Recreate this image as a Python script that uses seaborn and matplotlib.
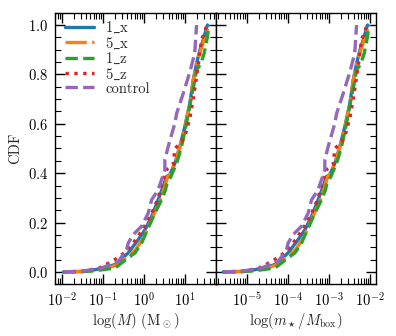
import numpy as np
import pandas as pd
import matplotlib
matplotlib.use("Agg")
import matplotlib.pyplot as plt
import seaborn as sns

# log10(M / Msun) and CDF
runs = [r"1$\_$x", r"5$\_$x", r"1$\_$z", r"5$\_$z", "control"]

logm_1x = [-1.96, -1.5, -1.19, -0.9, -0.7, -0.38, -0.14, 0.03, 0.19, 0.35, 0.47, 0.555,
           0.635, 0.757, 0.878, 1.0, 1.122, 1.202, 1.285, 1.365, 1.445, 1.55]
cdf_1x = [0.0, 0.002, 0.009, 0.02, 0.03, 0.077, 0.13, 0.171, 0.225, 0.292, 0.346, 0.387,
          0.393, 0.44, 0.508, 0.589, 0.683, 0.777, 0.844, 0.898, 0.939, 1.0]

logm_5x = [-1.96, -1.5, -1.2, -0.9, -0.7, -0.4, -0.2, 0.0, 0.1, 0.25, 0.4, 0.5, 0.58, 0.65,
           0.78, 0.9, 1.02, 1.13, 1.2, 1.27, 1.35, 1.45, 1.52, 1.59]
cdf_5x = [0.0, 0.002, 0.006, 0.015, 0.026, 0.06, 0.09, 0.14, 0.18, 0.235, 0.29, 0.34, 0.385,
          0.4, 0.45, 0.52, 0.6, 0.69, 0.77, 0.83, 0.88, 0.93, 0.97, 1.0]

logm_1z = [-1.96, -1.5, -1.19, -0.7, -0.38, -0.216, -0.054, 0.107, 0.27, 0.433, 0.53, 0.555,
           0.66, 0.8, 0.92, 1.04, 1.163, 1.243, 1.285, 1.39, 1.47, 1.55, 1.59]
cdf_1z = [0.0, 0.001, 0.005, 0.016, 0.057, 0.077, 0.117, 0.178, 0.238, 0.292, 0.333, 0.353,
          0.387, 0.44, 0.508, 0.602, 0.71, 0.777, 0.817, 0.844, 0.885, 0.952, 1.0]

logm_5z = [-1.96, -1.5, -1.1, -0.75, -0.45, -0.2, 0.0, 0.2, 0.35, 0.45, 0.545, 0.715, 0.757,
           0.92, 1.0, 1.12, 1.2, 1.32, 1.406, 1.487, 1.53]
cdf_5z = [0.0, 0.003, 0.015, 0.045, 0.08, 0.13, 0.18, 0.24, 0.3, 0.36, 0.413, 0.434, 0.5,
          0.526, 0.548, 0.622, 0.696, 0.83, 0.94, 0.972, 1.0]

logm_ctrl = [-1.96, -1.5, -1.03, -0.62, -0.42, -0.38, -0.26, -0.054, 0.107, 0.19, 0.35,
             0.513, 0.513, 0.594, 0.757, 0.8, 0.96, 1.122, 1.24, 1.285]
cdf_ctrl = [0.0, 0.003, 0.016, 0.043, 0.09, 0.117, 0.151, 0.185, 0.238, 0.292, 0.333,
            0.413, 0.454, 0.508, 0.602, 0.642, 0.723, 0.81, 0.885, 1.0]

# box mass in the same units, log10
log_mbox = 3.61

colors = ["#1f77b4", "#ff7f0e", "#2ca02c", "#d62728", "#9467bd"]
styles = ["-", (0, (6.4, 1.6, 1.0, 1.6)), (0, (3.7, 1.6)), (0, (1.0, 1.65)), (0, (3.7, 1.6))]

logm_all = [logm_1x, logm_5x, logm_1z, logm_5z, logm_ctrl]
cdf_all = [cdf_1x, cdf_5x, cdf_1z, cdf_5z, cdf_ctrl]

sns.set_theme(style="ticks")
plt.rcParams.update({
    "font.family": ["cmr10", "DejaVu Serif"],
    "mathtext.fontset": "cm",
    "mathtext.rm": "cmr10",
    "axes.formatter.use_mathtext": True,
    "font.size": 10.5,
    "axes.labelsize": 10.5,
    "xtick.labelsize": 10.5,
    "ytick.labelsize": 10.5,
    "legend.fontsize": 10.5,
    "axes.edgecolor": "black",
    "axes.linewidth": 1.0,
})

fig, axes = plt.subplots(1, 2, figsize=(3.96, 3.36), dpi=100, sharey=True)
fig.subplots_adjust(left=0.1397, right=0.9487, bottom=0.1539, top=0.9622, wspace=0)

for ax, shift in zip(axes, [0.0, log_mbox]):
    for name, lm, cd, c, ls in zip(runs, logm_all, cdf_all, colors, styles):
        x = 10 ** (np.array(lm) - shift)
        sns.lineplot(x=x, y=cd, ax=ax, color=c, linestyle=ls, lw=2.4, label=name,
                     estimator=None, sort=False, legend=False)
    ax.set_xscale("log")
    ax.tick_params(which="both", direction="in", top=True, right=True, colors="black")
    ax.tick_params(which="major", length=7.2, width=1.0, pad=5)
    ax.tick_params(which="minor", length=4.0, width=0.8)
    ax.yaxis.set_minor_locator(matplotlib.ticker.MultipleLocator(0.05))
    ax.xaxis.set_major_locator(matplotlib.ticker.LogLocator(base=10, numticks=10))
    ax.xaxis.set_minor_locator(matplotlib.ticker.LogLocator(base=10, subs=np.arange(2, 10) * 1.0, numticks=20))

axes[0].set_xlim(10 ** -2.156, 10 ** 1.747)
axes[1].set_xlim(10 ** -5.756, 10 ** -1.86)
axes[0].set_ylim(-0.05, 1.05)
axes[0].set_yticks([0.0, 0.2, 0.4, 0.6, 0.8, 1.0])

axes[0].set_ylabel("CDF")
axes[0].set_xlabel(r"$\log(M)$ (M$_\odot$)", labelpad=1)
axes[1].set_xlabel(r"$\log(m_\star/M_{\rm box})$", labelpad=1)

axes[0].legend(loc="upper left", bbox_to_anchor=(0.035, 0.99), frameon=False,
               handlelength=2.0, handletextpad=0.75, labelspacing=0.02,
               borderaxespad=0.0, borderpad=0.3)

fig.savefig("out.png", dpi=100)
